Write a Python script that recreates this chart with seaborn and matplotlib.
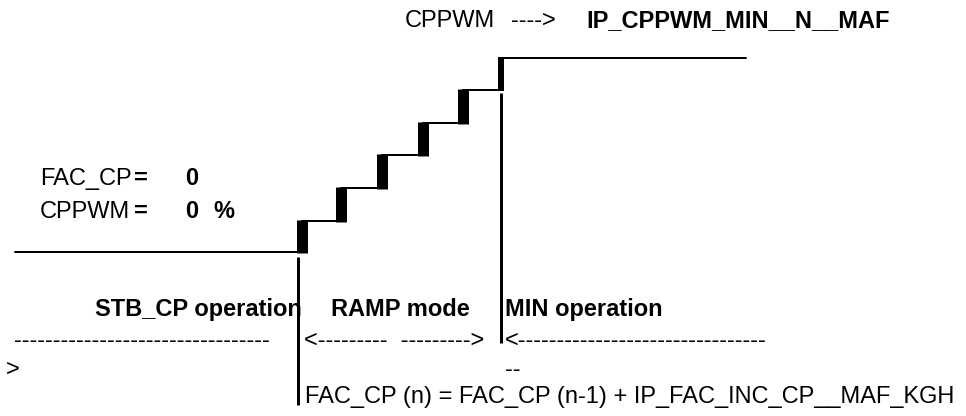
import matplotlib
matplotlib.use("Agg")
import matplotlib.pyplot as plt
import seaborn as sns

# ----------------------------
# Diagram data (pixel-like units, y grows downwards)
# ----------------------------
# staircase: x where each level starts, and the level itself
step_x = [15, 301.5, 341, 382, 423, 463, 500.5, 746]
step_y = [252.3, 221, 188, 155.3, 123, 90, 57.7, 57.7]
riser_px = [11, 11, 11, 11, 11, 6]

# phase separators (x, top, bottom)
sep_x = [298.3, 500.7]
sep_top = [257, 93.3]
sep_bottom = [405, 343]

# labels: (text, x, baseline, bold)
labels = [
    ("CPPWM", 405, 27, False),
    ("---->", 511, 27, False),
    ("IP_CPPWM_MIN__N__MAF", 586, 27, True),
    ("FAC_CP", 40, 185, False),
    ("=", 134, 185, True),
    ("0", 185, 185, True),
    ("CPPWM", 40, 218, False),
    ("=", 134, 218, True),
    ("0", 185, 218, True),
    ("%", 213, 218, True),
    ("STB_CP operation", 95, 316, True),
    ("RAMP mode", 331, 316, True),
    ("MIN operation", 505, 316, True),
    ("-" * 33, 14, 347, False),
    ("<---------  --------->", 304, 347, False),
    ("<" + "-" * 32, 505, 347, False),
    (">", 6, 376, False),
    ("--", 505, 376, False),
    ("FAC_CP (n) = FAC_CP (n-1) + IP_FAC_INC_CP__MAF_KGH", 305, 403, False),
]

DPI = 100
PX = 72 / DPI  # points per pixel

sns.set_style("white")
plt.rcParams['font.family'] = ['Liberation Sans', 'DejaVu Sans']

fig = plt.figure(figsize=(9.66, 4.16), dpi=DPI)
ax = fig.add_axes([0, 0, 1, 1])
ax.set_xlim(0, 966)
ax.set_ylim(416, 0)
ax.axis("off")

# thin staircase line
sns.lineplot(x=step_x, y=step_y, ax=ax, sort=False, drawstyle="steps-post",
             color="black", linewidth=2 * PX)

# thick risers between the levels
for i, w in enumerate(riser_px):
    ax.vlines(step_x[i + 1], step_y[i + 1] - 1, step_y[i] + 1,
              color="black", linewidth=w * PX)

# separators
ax.vlines(sep_x, sep_top, sep_bottom, color="black", linewidth=3 * PX)

for txt, x, y, bold in labels:
    ax.text(x, y, txt, fontsize=17, ha="left", va="baseline",
            fontweight="bold" if bold else "normal", color="black")

fig.savefig("out.png", dpi=DPI)
